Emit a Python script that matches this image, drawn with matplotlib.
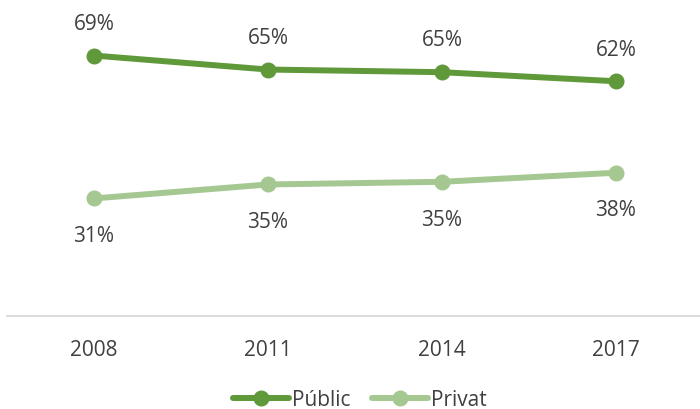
import matplotlib
matplotlib.use("Agg")
import matplotlib.pyplot as plt

# dades
anys = ["2008", "2011", "2014", "2017"]
public = [68.9, 65.2, 64.5, 62.1]
privat = [31.1, 34.8, 35.5, 37.9]
etiquetes_public = ["69%", "65%", "65%", "62%"]
etiquetes_privat = ["31%", "35%", "35%", "38%"]

verd_fosc = "#5f993a"
verd_clar = "#a5c892"
gris_text = "#404040"

plt.rcParams['font.family'] = ['Open Sans', 'DejaVu Sans']

fig = plt.figure(figsize=(7, 4.09), dpi=100)
ax = fig.add_axes([7 / 700, 93 / 409, 696 / 700, 302.4 / 409])

x = range(len(anys))
ax.plot(x, public, color=verd_fosc, lw=4.3, marker='o', ms=10.5, label="Públic",
        solid_capstyle='round', clip_on=False)
ax.plot(x, privat, color=verd_clar, lw=4.3, marker='o', ms=10.5, label="Privat",
        solid_capstyle='round', clip_on=False)

# etiquetes de dades
for i in x:
    ax.annotate(etiquetes_public[i], (i, public[i]), xytext=(0, 22.5), textcoords='offset points',
                ha='center', va='center', fontsize=15, color=gris_text)
    ax.annotate(etiquetes_privat[i], (i, privat[i]), xytext=(0, -27.5), textcoords='offset points',
                ha='center', va='center', fontsize=15, color=gris_text)

ax.set_xlim(-0.5, 3.5)
ax.set_ylim(0, 80)
ax.set_xticks(list(x))
ax.set_xticklabels(anys, fontsize=15, color=gris_text)
ax.tick_params(axis='x', length=0, pad=17)
ax.set_yticks([])
for s in ['top', 'right', 'left']:
    ax.spines[s].set_visible(False)
ax.spines['bottom'].set_color("#d9d9d9")
ax.spines['bottom'].set_linewidth(1.3)

fig.legend(loc='center', bbox_to_anchor=(0.514, 9 / 409), ncol=2, frameon=False,
           fontsize=15, labelcolor=gris_text, handlelength=2.7, handletextpad=0.15,
           columnspacing=1.0, borderaxespad=0, borderpad=0)

fig.savefig("out.png", dpi=100)
